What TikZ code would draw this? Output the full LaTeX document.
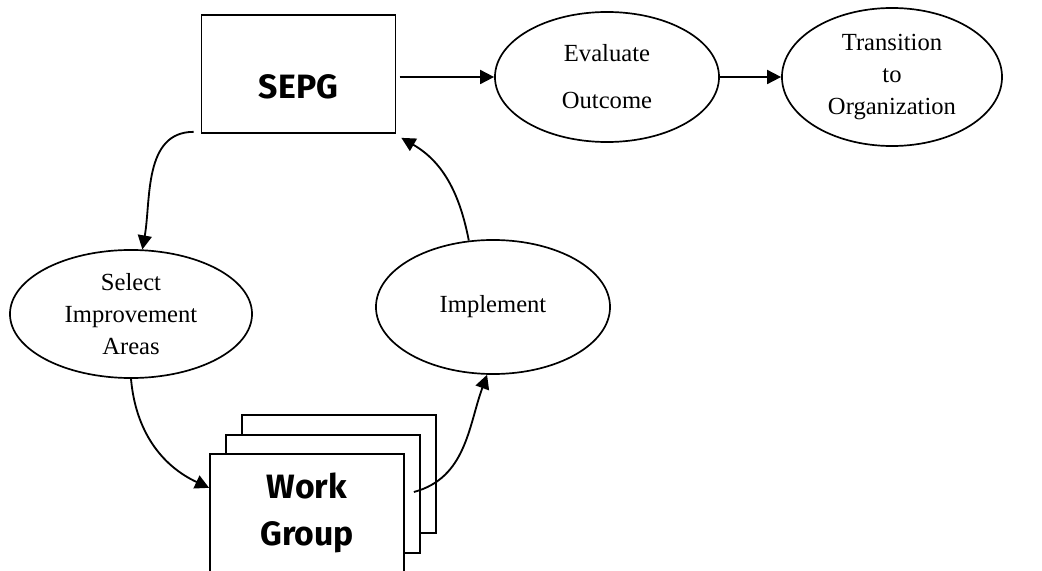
\documentclass[tikz,border=0pt]{standalone}
\usepackage{fontspec}
\setmainfont{Liberation Serif}
\newfontfamily\boxfont{Fira Sans}
\usetikzlibrary{shapes.geometric, arrows.meta, positioning, calc}

\begin{document}
\begin{tikzpicture}[x=0.025cm, y=-0.025cm,
    font=\fontsize{17.5}{22.5}\selectfont,
    flow/.style={-{Triangle[length=3.5mm, width=3.5mm]}, line width=1.3pt},
    stage/.style={draw, ellipse, line width=1.2pt, inner sep=0pt, align=center},
    team/.style={draw, fill=white, line width=1.2pt,
                 minimum width=4.85cm, minimum height=2.95cm,
                 inner sep=0pt, align=center,
                 font=\boxfont\bfseries\fontsize{24}{34}\selectfont}]

    \useasboundingbox (0,0) rectangle (1042,571);

    \node[team, text height=1.25cm] (sepg) at (298.5,74) {SEPG};

    \node[stage, minimum width=5.6cm, minimum height=3.25cm] (evaluate) at (607,77)
      {Evaluate\\[11pt]Outcome};
    \node[stage, minimum width=5.5cm, minimum height=3.45cm] (transition) at (892,77)
      {Transition\\to\\Organization};
    \node[stage, minimum width=6.05cm, minimum height=3.2cm] (select) at (131,314)
      {Select\\Improvement\\Areas};
    \node[stage, minimum width=5.85cm, minimum height=3.35cm] (implement) at (493,307)
      {Implement};

    % stacked work group sheets, back to front
    \node[team] (wg3) at (339,474) {};
    \node[team] (wg2) at (323,494) {};
    \node[team] (wg) at (307,513) {Work\\Group};

    \draw[flow, shorten <=0.08cm] (sepg.east |- evaluate.west) -- (evaluate.west);
    \draw[flow] (evaluate) -- (transition);

    \draw[flow] ([xshift=-0.175cm, yshift=0.05cm]sepg.south west)
      to[out=180, in=80] (select.80);
    \draw[flow] (select.south)
      to[out=-85, in=155] ($(wg.north west)!0.29!(wg.south west)$);
    \draw[flow] ([xshift=0.225cm, yshift=0.525cm]wg.east)
      to[out=15, in=-110] (implement.265);
    \draw[flow] (implement.110)
      to[out=101, in=-30] ([xshift=0.125cm, yshift=-0.1cm]sepg.south east);
\end{tikzpicture}
\end{document}
